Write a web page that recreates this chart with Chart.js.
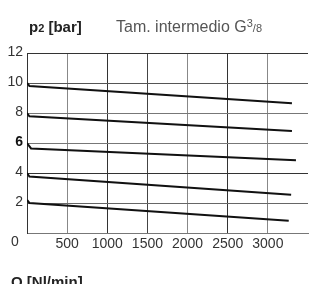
<!DOCTYPE html>
<html>
<head>
<meta charset="utf-8">
<script src="https://cdn.jsdelivr.net/npm/chart.js@4"></script>
<style>
  html, body { margin: 0; padding: 0; background: #fff; }
  #wrap { position: relative; width: 311px; height: 284px; overflow: hidden; font-family: "Liberation Sans", Arial, sans-serif; }
  canvas { position: absolute; left: 0; top: 0; }
  .lbl { position: absolute; white-space: nowrap; line-height: 1; }
</style>
</head>
<body>
<div id="wrap">
  <canvas id="c" width="311" height="284"></canvas>
  <div class="lbl" style="left:29px; top:19px; font-weight:bold; font-size:15px; color:#222;">p<span style="font-size:11px;">2</span> [bar]</div>
  <div class="lbl" style="left:116px; top:18px; font-size:16px; color:#555;">Tam. intermedio G<span style="font-size:11px; vertical-align:5px;">3</span><span style="font-size:11px;">/8</span></div>
  <div class="lbl" style="left:11px; top:274px; font-weight:bold; font-size:15px; color:#222;">Q [Nl/min]</div>
</div>
<script>
// Flow Q [Nl/min] and outlet pressure p2 [bar] for each set pressure curve
const qLine10 = [0, 30, 3300];
const pLine10 = [10, 9.8, 8.65];
const qLine8 = [0, 30, 3300];
const pLine8 = [8, 7.78, 6.8];
const qLine6 = [0, 50, 3350];
const pLine6 = [6, 5.64, 4.85];
const qLine4 = [0, 30, 3290];
const pLine4 = [4, 3.76, 2.55];
const qLine2 = [0, 30, 3260];
const pLine2 = [2.2, 2.0, 0.82];

const xTicks = [0, 500, 1000, 1500, 2000, 2500, 3000, 3500];
const xTickLabels = ['0', '500', '1000', '1500', '2000', '2500', '3000', ''];
const yTicks = [0, 2, 4, 6, 8, 10, 12];
const yTickLabels = ['0', '2', '4', '6', '8', '10', '12'];

const curves = [[qLine10, pLine10], [qLine8, pLine8], [qLine6, pLine6], [qLine4, pLine4], [qLine2, pLine2]];

const datasets = curves.map(([qs, ps]) => ({
  data: qs.map((q, i) => ({ x: q, y: ps[i] })),
  borderColor: '#111',
  borderWidth: 2,
  pointRadius: 0,
  tension: 0,
  fill: false
}));

const xGridColor = { 500: '#888', 1000: '#333', 1500: '#444', 2000: '#888', 2500: '#333', 3000: '#888', 3500: 'rgba(0,0,0,0)' };
const yGridColor = { 12: '#333', 10: '#555', 8: '#777', 6: '#777', 4: '#333', 2: '#666', 0: '#777' };

const originLabel = {
  id: 'originLabel',
  afterDraw(chart) {
    const ctx = chart.ctx;
    ctx.save();
    ctx.font = '14px "Liberation Sans", Arial, sans-serif';
    ctx.fillStyle = '#333';
    ctx.textAlign = 'left';
    ctx.textBaseline = 'middle';
    ctx.fillText(yTickLabels[0], 11, 242);
    ctx.restore();
  }
};

new Chart(document.getElementById('c'), {
  type: 'line',
  data: { datasets },
  plugins: [originLabel],
  options: {
    responsive: false,
    animation: false,
    devicePixelRatio: 1,
    layout: { padding: { top: 53, left: 0, right: 0, bottom: 0 } },
    plugins: { legend: { display: false }, tooltip: { enabled: false }, title: { display: false } },
    scales: {
      x: {
        type: 'linear',
        min: 0, max: 3500,
        afterBuildTicks: (s) => { s.ticks = xTicks.map(v => ({ value: v })); },
        afterFit: (s) => { s.height = 51; },
        ticks: {
          padding: 3,
          color: '#333',
          font: { family: '"Liberation Sans", Arial, sans-serif', size: 14 },
          maxRotation: 0,
          autoSkip: false,
          callback: (v) => { const i = xTicks.indexOf(v); return (i <= 0) ? '' : xTickLabels[i]; }
        },
        grid: {
          drawTicks: false,
          lineWidth: 1,
          color: (c) => xGridColor[c.tick && c.tick.value] || '#666'
        },
        border: { display: true, color: '#777', width: 1 }
      },
      y: {
        type: 'linear',
        min: 0, max: 12,
        afterBuildTicks: (s) => { s.ticks = yTicks.map(v => ({ value: v })); },
        afterFit: (s) => { s.width = 27; },
        ticks: {
          padding: 4,
          labelOffset: -1,
          autoSkip: false,
          color: (c) => (c.tick && c.tick.value === 6) ? '#111' : '#333',
          font: (c) => ({ family: '"Liberation Sans", Arial, sans-serif', size: 14, weight: (c.tick && c.tick.value === 6) ? 'bold' : 'normal' }),
          callback: (v) => { const i = yTicks.indexOf(v); return (i <= 0) ? '' : yTickLabels[i]; }
        },
        grid: {
          drawTicks: false,
          lineWidth: 1,
          color: (c) => yGridColor[c.tick && c.tick.value] || '#666'
        },
        border: { display: true, color: '#333', width: 1 }
      }
    }
  }
});
</script>
</body>
</html>
